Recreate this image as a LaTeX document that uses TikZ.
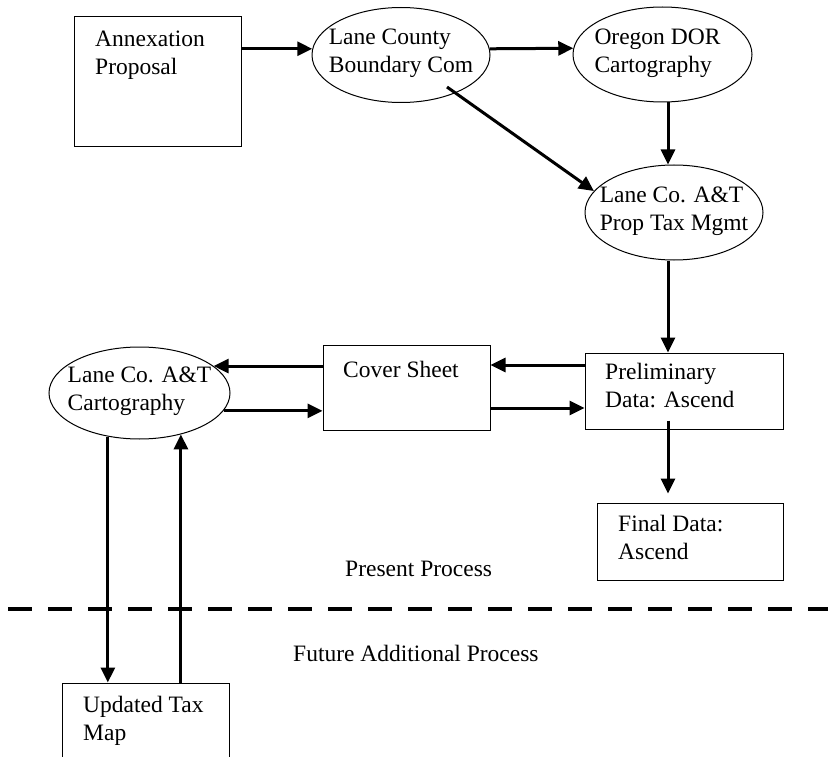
\documentclass[tikz,border=0pt]{standalone}
\usepackage{fontspec}
\setmainfont{Liberation Serif}
\usetikzlibrary{arrows.meta,shapes.geometric}

\begin{document}
\begin{tikzpicture}[x=1pt, y=-1pt, font=\fontsize{23.5}{28}\selectfont,
	box/.style={draw, line width=1pt, rectangle, inner sep=0pt},
	oval/.style={draw, line width=1pt, ellipse, inner sep=0pt},
	words/.style={inner sep=0pt, align=left, execute at begin node=\strut, execute at end node=\strut},
	caption/.style={inner sep=0pt, anchor=base west},
	flow/.style={line width=3pt, -{Triangle[length=15pt, width=14pt]}}]
	\useasboundingbox (0,0) rectangle (828,757);
	\node[box, minimum width=167pt, minimum height=130pt] (annex) at (157.5,82) {};
	\node[oval, minimum width=178pt, minimum height=95pt] (bound) at (401,55) {};
	\node[oval, minimum width=179pt, minimum height=95pt] (oregon) at (662.5,54.5) {};
	\node[oval, minimum width=178pt, minimum height=95pt] (prop) at (674,212.5) {};
	\node[box, minimum width=198pt, minimum height=76pt] (prelim) at (684,391) {};
	\node[box, minimum width=167pt, minimum height=85pt] (cover) at (406.5,387.5) {};
	\node[oval, minimum width=181pt, minimum height=92pt] (cart) at (139.5,393) {};
	\node[box, minimum width=186pt, minimum height=77pt] (final) at (690,541.5) {};
	\node[box, minimum width=167pt, minimum height=107pt] (upd) at (145.5,736.5) {};
	\node[words, anchor=north west] (annex-t) at (95,30.4) {Annexation\\Proposal};
	\node[words] (bound-t) at (bound) {Lane County\\Boundary Com};
	\node[words] (oregon-t) at ([xshift=-5pt]oregon.center) {Oregon DOR\\Cartography};
	\node[words] (prop-t) at (prop) {Lane Co. A\&T\\Prop Tax Mgmt};
	\node[words] (cart-t) at (cart) {Lane Co. A\&T\\Cartography};
	\node[words, anchor=north west] (cover-t) at (343,357.4) {Cover Sheet};
	\node[words, anchor=north west] (prelim-t) at (605,363.4) {Preliminary\\Data: Ascend};
	\node[words, anchor=north west] (final-t) at (618,515.4) {Final Data:\\Ascend};
	\node[words, anchor=north west] (upd-t) at (83,696.4) {Updated Tax\\Map};
	\node[caption] (present) at (345,576) {Present Process};
	\node[caption] (future) at (293,661) {Future Additional Process};
	\draw[line width=3.5pt, dash pattern=on 24pt off 16pt, dash phase=32pt] (0,609) -- (828,609);
	\draw[flow] (annex.east |- bound.176) -- (bound.176);
	\draw[flow] (bound.4) -- (oregon.176);
	\draw[flow] ([xshift=5.5pt]oregon.south) -- ([xshift=5.5pt]oregon.south |- prop.north);
	\draw[flow] ([shift={(46,32)}]bound.center) -- (prop.165);
	\draw[flow] ([xshift=-6pt]prop.south) -- ([xshift=-6pt]prop.south |- prelim.north);
	\draw[flow] ([yshift=26pt]prelim.west) -- ([yshift=26pt]prelim.west -| cover.east);
	\draw[flow] ([yshift=-17pt]prelim.west -| cover.east) -- ([yshift=-17pt]prelim.west);
	\draw[flow] (cover.west |- cart.20) -- (cart.20);
	\draw[flow] (cart.-12) -- (cart.-12 -| cover.west);
	\draw[flow] ([shift={(-16,-9)}]prelim.south) -- ([shift={(-16,-9)}]prelim.south |- final.north);
	\draw[flow] (cart.234) -- (cart.234 |- upd.north);
	\draw[flow] (upd.north -| cart.-45) -- (cart.-45);
\end{tikzpicture}
\end{document}
